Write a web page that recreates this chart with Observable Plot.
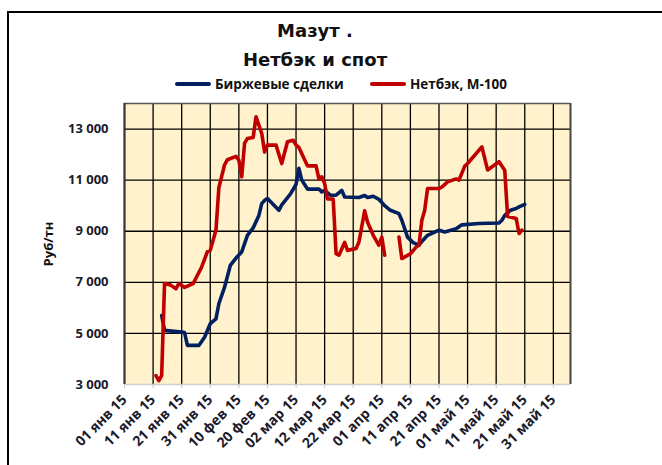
<!DOCTYPE html>
<html>
<head>
<meta charset="utf-8">
<script src="https://cdn.jsdelivr.net/npm/d3@7"></script>
<script src="https://cdn.jsdelivr.net/npm/@observablehq/plot@0.6"></script>
<style>
  html, body { margin: 0; padding: 0; background: #fff; }
  #chart { position: relative; width: 662px; height: 465px; overflow: hidden; background: #fff; }
  #border { position: absolute; left: 7px; top: 11px; width: 700px; height: 500px; border-top: 2px solid #000; border-left: 2px solid #000; }
  .title { position: absolute; left: 0; width: 630px; text-align: center; font-family: "DejaVu Sans", sans-serif; font-weight: bold; font-size: 18px; line-height: 18px; color: #111; }
  .leg { position: absolute; top: 76px; height: 16px; display: flex; align-items: center; font-family: "Open Sans", sans-serif; font-weight: bold; font-size: 13.5px; color: #111; white-space: nowrap; }
  .leg span.sw { display: inline-block; width: 36px; height: 4px; margin-right: 4px; border-radius: 2px; }
  #ylabel { position: absolute; left: 48px; top: 244px; transform: translate(-50%, -50%) rotate(-90deg); font-family: "Open Sans", sans-serif; font-weight: bold; font-size: 13px; color: #111; white-space: nowrap; }
  #plot { position: absolute; left: 0; top: 95px; }
</style>
</head>
<body>
<div id="chart">
  <div id="border"></div>
  <div class="title" style="top:22px">Мазут .</div>
  <div class="title" style="top:51px">Нетбэк и спот</div>
  <div class="leg" style="left:175px"><span class="sw" style="background:#002060"></span>Биржевые сделки</div>
  <div class="leg" style="left:370px"><span class="sw" style="background:#C00000"></span>Нетбэк, М-100</div>
  <div id="ylabel">Руб/тн</div>
  <div id="plot"></div>
</div>
<script>
// ---- data ----
const seriesNames = ["Биржевые сделки", "Нетбэк, М-100"];
const seriesColors = ["#002060", "#C00000"];

const tickDates = ["2015-01-01","2015-01-11","2015-01-21","2015-01-31","2015-02-10","2015-02-20","2015-03-02","2015-03-12","2015-03-22","2015-04-01","2015-04-11","2015-04-21","2015-05-01","2015-05-11","2015-05-21","2015-05-31"];
const tickLabels = ["01 янв 15","11 янв 15","21 янв 15","31 янв 15","10 фев 15","20 фев 15","02 мар 15","12 мар 15","22 мар 15","01 апр 15","11 апр 15","21 апр 15","01 май 15","11 май 15","21 май 15","31 май 15"];
const yTicks = [3000, 5000, 7000, 9000, 11000, 13000];

const exchangeDates = ["2015-01-14","2015-01-15","2015-01-21","2015-01-22","2015-01-23","2015-01-27","2015-01-29","2015-01-31","2015-02-02","2015-02-03","2015-02-05","2015-02-07","2015-02-09","2015-02-11","2015-02-13","2015-02-15","2015-02-17","2015-02-18","2015-02-19","2015-02-20","2015-02-24","2015-02-25","2015-02-28","2015-03-02","2015-03-03","2015-03-04","2015-03-06","2015-03-10","2015-03-11","2015-03-12","2015-03-14","2015-03-16","2015-03-18","2015-03-19","2015-03-24","2015-03-26","2015-03-27","2015-03-29","2015-03-31","2015-04-02","2015-04-04","2015-04-07","2015-04-08","2015-04-10","2015-04-12","2015-04-14","2015-04-15","2015-04-17","2015-04-21","2015-04-23","2015-04-27","2015-04-29","2015-05-05","2015-05-12","2015-05-13","2015-05-14","2015-05-16","2015-05-18","2015-05-19","2015-05-21"];
const exchangeValues = [5700,5120,5050,5030,4530,4530,4850,5380,5570,6160,6810,7660,7950,8190,8840,9130,9620,10080,10210,10280,9820,10030,10450,10830,11460,11000,10650,10650,10540,10600,10410,10410,10600,10340,10320,10400,10320,10370,10250,10000,9820,9690,9430,8770,8550,8450,8600,8840,9040,8970,9100,9250,9300,9320,9430,9620,9820,9890,9950,10050];

const netbackDates = ["2015-01-12","2015-01-13","2015-01-14","2015-01-15","2015-01-17","2015-01-19","2015-01-20","2015-01-22","2015-01-25","2015-01-28","2015-01-30","2015-01-31","2015-02-02","2015-02-03","2015-02-05","2015-02-06","2015-02-09","2015-02-10","2015-02-11","2015-02-12","2015-02-13","2015-02-15","2015-02-16","2015-02-18","2015-02-19","2015-02-20","2015-02-23","2015-02-25","2015-02-27","2015-03-01","2015-03-02","2015-03-03","2015-03-05","2015-03-06","2015-03-09","2015-03-10","2015-03-11","2015-03-12","2015-03-13","2015-03-15","2015-03-16","2015-03-17","2015-03-19","2015-03-20","2015-03-23","2015-03-24","2015-03-26","2015-03-27","2015-03-29","2015-03-31","2015-04-01","2015-04-02","2015-04-04","2015-04-07","2015-04-08","2015-04-11","2015-04-13","2015-04-14","2015-04-15","2015-04-16","2015-04-17","2015-04-21","2015-04-22","2015-04-24","2015-04-27","2015-04-28","2015-04-30","2015-05-01","2015-05-06","2015-05-08","2015-05-12","2015-05-14","2015-05-15","2015-05-18","2015-05-19","2015-05-20"];
const netbackValues = [3350,3150,3350,6950,6900,6750,6950,6800,6950,7600,8200,8250,9050,10700,11600,11800,11930,11780,11130,12450,12630,12670,13480,12830,12100,12370,12370,11650,12500,12560,12370,12280,11800,11560,11560,11050,11130,10870,10260,10260,8120,8060,8560,8250,8320,8580,9800,9360,8840,8450,8770,8060,null,8770,7930,8120,8380,8450,9430,9820,10670,10670,10730,10930,11050,11000,11550,11650,12300,11400,11720,11390,9580,9500,8910,9040];

// ---- build ----
const rows = [
  ...exchangeDates.map((d, i) => ({date: new Date(d), value: exchangeValues[i], series: seriesNames[0]})),
  ...netbackDates.map((d, i) => ({date: new Date(d), value: netbackValues[i], series: seriesNames[1]}))
];
const xStart = new Date("2015-01-01");
const xEnd = new Date("2015-06-06");
const tickDateObjs = tickDates.map(d => new Date(d));
const fmtX = d => tickLabels[tickDateObjs.findIndex(t => +t === +d)];
const fmtY = d => d3.format(",")(d).replace(/,/g, " ");

const chart = Plot.plot({
  width: 662,
  height: 370,
  marginLeft: 124,
  marginRight: 92,
  marginTop: 8,
  marginBottom: 81,
  style: {fontFamily: "'Open Sans', sans-serif", fontWeight: "bold", fontSize: "13px", color: "#1a1a2a", background: "transparent", overflow: "visible"},
  x: {type: "utc", domain: [xStart, xEnd]},
  y: {domain: [3000, 14000]},
  color: {domain: seriesNames, range: seriesColors},
  marks: [
    Plot.frame({fill: "#FFF2CC", stroke: null}),
    Plot.gridX(tickDateObjs, {stroke: "#000", strokeOpacity: 1, strokeWidth: 1.3}),
    Plot.gridY(yTicks.slice(1), {stroke: "#000", strokeOpacity: 1, strokeWidth: 1.3}),
    Plot.ruleY([3000], {stroke: "#cfcfcf", strokeWidth: 1.5}),
    Plot.ruleY([14000], {stroke: "#555", strokeWidth: 1.5}),
    Plot.ruleX([xStart], {stroke: "#333", strokeWidth: 2}),
    Plot.ruleX([xEnd], {stroke: "#444", strokeWidth: 2}),
    Plot.axisX({ticks: tickDateObjs, tickFormat: fmtX, tickRotate: -45, tickSize: 4, tickPadding: 9, stroke: "#c8c8c8", label: null, fontSize: 14}),
    Plot.axisY({ticks: yTicks, tickFormat: fmtY, tickSize: 0, tickPadding: 16, label: null, fontSize: 13}),
    Plot.line(rows, {x: "date", y: "value", z: "series", stroke: "series", strokeWidth: 3.6, strokeLinejoin: "round", strokeLinecap: "round"})
  ]
});
document.getElementById("plot").appendChild(chart);
</script>
</body>
</html>
